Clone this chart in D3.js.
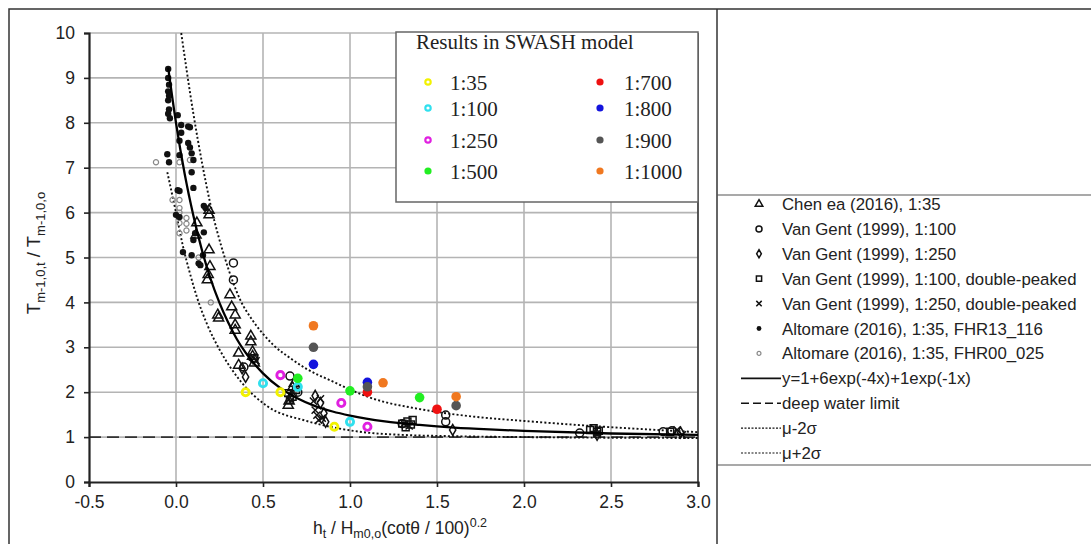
<!DOCTYPE html>
<html><head><meta charset="utf-8">
<script src="https://cdn.jsdelivr.net/npm/d3@7"></script>
<style>
body{margin:0;background:#fff;}
text{font-family:"Liberation Sans",Arial,sans-serif;fill:#222;}
.serif{font-family:"Liberation Serif","Times New Roman",serif;}
</style></head><body>
<svg id="c" width="1091" height="544"></svg>
<script>
// ---------- DATA ----------
const xTicks = [-0.5, 0, 0.5, 1, 1.5, 2, 2.5, 3];
const yTicks = [0,1,2,3,4,5,6,7,8,9,10];

const swashLabels = ["1:35","1:100","1:250","1:500","1:700","1:800","1:900","1:1000"];
const swash35   = [[0.40,2.00],[0.60,2.00],[0.91,1.23]];
const swash100  = [[0.50,2.20],[0.70,2.12],[1.00,1.34]];
const swash250  = [[0.60,2.38],[0.95,1.76],[1.10,1.23]];
const swash500  = [[0.70,2.31],[1.00,2.03],[1.40,1.88]];
const swash700  = [[1.10,2.00],[1.50,1.62]];
const swash800  = [[0.79,2.62],[1.10,2.22]];
const swash900  = [[0.79,3.00],[1.10,2.12],[1.61,1.70]];
const swash1000 = [[0.79,3.48],[1.19,2.21],[1.61,1.90]];

const chen35 = [[0.19,6.05],[0.19,5.95],[0.12,5.77],[0.115,5.5],[0.19,5.17],[0.195,4.8],[0.185,4.62],[0.18,4.5],
  [0.31,4.17],[0.32,3.9],[0.34,3.72],[0.34,3.5],[0.34,3.38],[0.24,3.72],[0.245,3.65],[0.43,3.25],[0.43,3.12],
  [0.44,2.9],[0.36,2.87],[0.36,2.6],[0.44,2.8],[0.45,2.65],[0.645,1.71],[0.65,1.8],[0.67,2.1],[0.68,2.2]];
const vanGent100 = [[0.33,4.88],[0.33,4.5],[0.39,2.56],[0.655,2.36],[0.70,2.0],[1.55,1.49],[1.55,1.34],
  [2.32,1.09],[2.80,1.12],[2.85,1.14],[1.30,1.30]];
const vanGent250 = [[0.38,2.53],[0.40,2.34],[0.80,1.92],[0.83,1.76],[0.85,1.53],[0.86,1.34],[1.59,1.16],
  [0.66,1.9],[2.42,1.05],[2.90,1.10]];
const vanGent100dp = [[0.645,1.98],[0.655,1.83],[0.67,1.9],[0.69,2.05],[1.30,1.30],[1.33,1.35],[1.35,1.28],
  [1.32,1.22],[1.36,1.38],[2.38,1.16],[2.42,1.12],[2.40,1.20],[2.43,1.14],[2.84,1.12],[0.45,2.75]];
const vanGent250dp = [[0.80,1.60],[0.81,1.49],[0.84,1.42],[0.82,1.38],[0.83,1.85],[0.79,1.80],[1.31,1.30],
  [1.34,1.25],[2.88,1.16],[2.91,1.05],[2.42,1.08],[0.44,2.78],[0.46,2.70]];
const altomare13 = [[-0.045,9.2],[-0.045,9.0],[-0.04,8.85],[-0.045,8.7],[-0.04,8.6],[-0.045,8.5],[-0.04,8.3],
  [-0.045,8.2],[-0.035,8.1],[0.01,8.17],[0.03,7.95],[0.03,7.78],[0.02,7.6],[0.07,7.92],[0.08,7.9],[0.07,7.55],
  [0.08,7.45],[0.09,7.32],[0.10,7.17],[0.09,6.9],[0.10,6.55],[-0.05,7.3],[-0.04,7.12],[0.02,7.28],[0.01,6.5],
  [0.02,6.48],[0.16,6.15],[0.17,6.1],[0.0,5.95],[0.02,5.9],[0.11,5.54],[0.10,5.39],[0.16,5.56],[0.09,5.05],
  [0.13,4.87],[0.14,4.83],[0.155,5.05],[0.04,5.12]];
const altomare00 = [[-0.115,7.12],[0.02,7.12],[0.08,7.17],[-0.02,6.28],[0.02,6.28],[0.02,6.1],[0.02,6.0],
  [0.06,5.88],[0.06,5.75],[0.06,5.6],[0.02,5.77],[0.02,5.54],[0.13,5.0],[0.20,4.0]];

const refLabels = ["Chen ea (2016), 1:35","Van Gent (1999), 1:100","Van Gent (1999), 1:250",
  "Van Gent (1999), 1:100, double-peaked","Van Gent (1999), 1:250, double-peaked",
  "Altomare (2016), 1:35, FHR13_116","Altomare (2016), 1:35, FHR00_025"];
const lineLabels = ["y=1+6exp(-4x)+1exp(-1x)","deep water limit","μ-2σ","μ+2σ"];

// curves
const fitCurve = [[-0.045,9.23],[0,8.0],[0.05,6.86],[0.1,5.93],[0.15,5.15],[0.2,4.51],[0.25,3.99],[0.3,3.55],
  [0.35,3.18],[0.4,2.88],[0.5,2.42],[0.6,2.09],[0.7,1.86],[0.8,1.69],[0.9,1.57],[1.0,1.48],[1.2,1.35],
  [1.4,1.27],[1.6,1.21],[1.8,1.17],[2.0,1.14],[2.5,1.08],[3.0,1.05]];
const upperCurve = [[0.03,10],[0.1,8.2],[0.15,7.1],[0.2,6.15],[0.28,5.0],[0.37,4.05],[0.44,3.6],[0.5,3.3],
  [0.56,3.05],[0.66,2.75],[0.75,2.52],[0.9,2.24],[1.0,2.06],[1.1,1.9],[1.2,1.78],[1.35,1.66],[1.5,1.56],
  [1.7,1.46],[2.0,1.36],[2.5,1.22],[3.0,1.11]];
const lowerCurve = [[-0.05,6.9],[0,6.0],[0.04,5.25],[0.08,4.65],[0.12,4.12],[0.18,3.5],[0.25,2.95],[0.37,2.25],
  [0.52,1.7],[0.75,1.36],[0.94,1.19],[1.1,1.1],[1.3,1.05],[1.6,1.02],[2.0,1.0],[3.0,0.98]];
const deepWater = [[-0.5,1],[3.0,1]];

// ---------- DRAW ----------
const svg = d3.select("#c");
const x = d3.scaleLinear().domain([-0.5,3]).range([89,698]);
const y = d3.scaleLinear().domain([0,10]).range([482,33]);

// outer frame
svg.append("path").attr("d","M9,544 L9,9 L1091,9").attr("fill","none").attr("stroke","#333").attr("stroke-width",1.5);
svg.append("line").attr("x1",717).attr("x2",717).attr("y1",9).attr("y2",544).attr("stroke","#333").attr("stroke-width",1.5);
svg.append("line").attr("x1",717).attr("x2",1091).attr("y1",195).attr("y2",195).attr("stroke","#555").attr("stroke-width",1.2);
svg.append("line").attr("x1",717).attr("x2",1091).attr("y1",465).attr("y2",465).attr("stroke","#555").attr("stroke-width",1.2);

// grid
const grid = svg.append("g").attr("stroke","#b4b4b4").attr("stroke-width",1.6);
xTicks.slice(1,-1).forEach(t=>grid.append("line").attr("x1",x(t)).attr("x2",x(t)).attr("y1",y(10)).attr("y2",y(0)));
yTicks.slice(1).forEach(t=>grid.append("line").attr("x1",x(-0.5)).attr("x2",x(3)).attr("y1",y(t)).attr("y2",y(t)));
svg.append("line").attr("x1",x(3)).attr("x2",x(3)).attr("y1",y(10)).attr("y2",y(0)).attr("stroke","#444").attr("stroke-width",1.8);

// curves
const line = d3.line().x(d=>x(d[0])).y(d=>y(d[1])).curve(d3.curveMonotoneX);
svg.append("path").attr("d",d3.line().x(d=>x(d[0])).y(d=>y(d[1]))(deepWater)).attr("fill","none")
  .attr("stroke","#333").attr("stroke-width",1.6).attr("stroke-dasharray","12,6");
svg.append("path").attr("d",line(upperCurve)).attr("fill","none").attr("stroke","#111").attr("stroke-width",1.9).attr("stroke-dasharray","2,2.2");
svg.append("path").attr("d",line(lowerCurve)).attr("fill","none").attr("stroke","#111").attr("stroke-width",1.9).attr("stroke-dasharray","2,2.2");

// marker helpers
function xPath(s){return `M${-s},${-s}L${s},${s}M${-s},${s}L${s},${-s}`;}
function drawMarkers(g, data, kind, sc){
  data.forEach(d=>{
    addMarker(g, kind, sc||1).attr("transform", `translate(${x(d[0])},${y(d[1])})`);
  });
}
function addMarker(g, kind, sc){
  sc = sc||1;
  if(kind==="tri") return g.append("path").attr("d",d3.symbol(d3.symbolTriangle,44*sc*sc)()).attr("fill","none").attr("stroke","#111").attr("stroke-width",1.5);
  if(kind==="circ") return g.append("circle").attr("r",4*sc).attr("fill","none").attr("stroke","#111").attr("stroke-width",1.5);
  if(kind==="diam") return g.append("path").attr("d",d3.symbol(d3.symbolDiamond,34*sc*sc)()).attr("fill","none").attr("stroke","#111").attr("stroke-width",1.5);
  if(kind==="sq") return g.append("path").attr("d",d3.symbol(d3.symbolSquare,48*sc*sc)()).attr("fill","none").attr("stroke","#111").attr("stroke-width",1.5);
  if(kind==="x") return g.append("path").attr("d",xPath(3.6*sc)).attr("fill","none").attr("stroke","#111").attr("stroke-width",1.5);
  if(kind==="dot") return g.append("circle").attr("r",3.2*sc).attr("fill","#111");
  if(kind==="gdot") return g.append("circle").attr("r",2.6*sc).attr("fill","none").attr("stroke","#888").attr("stroke-width",1.2);
}
const pts = svg.append("g");
drawMarkers(pts, altomare00, "gdot");
drawMarkers(pts, altomare13, "dot");
drawMarkers(pts, chen35, "tri");
drawMarkers(pts, vanGent100, "circ");
drawMarkers(pts, vanGent250, "diam");
drawMarkers(pts, vanGent100dp, "sq");
drawMarkers(pts, vanGent250dp, "x");

// fitted curve on top of black points
svg.append("path").attr("d",line(fitCurve)).attr("fill","none").attr("stroke","#000").attr("stroke-width",2.3);

// SWASH points
const swashSeries = [swash35,swash100,swash250,swash500,swash700,swash800,swash900,swash1000];
const swashColors = ["#f2f200","#30e0ee","#e020e0","#22ee22","#ee1111","#1414dd","#555555","#f07820"];
const swashOpen = [true,true,true,false,false,false,false,false];
function swashMarker(g, i, cx, cy, r){
  if(swashOpen[i]) return g.append("circle").attr("cx",cx).attr("cy",cy).attr("r",r*0.75).attr("fill","none").attr("stroke",swashColors[i]).attr("stroke-width",r*0.6);
  return g.append("circle").attr("cx",cx).attr("cy",cy).attr("r",r).attr("fill",swashColors[i]);
}
const sg = svg.append("g");
swashSeries.forEach((s,i)=>s.forEach(d=>swashMarker(sg,i,x(d[0]),y(d[1]),4.8)));

// axes
const yAxis = svg.append("g").attr("transform",`translate(${x(-0.5)},0)`)
  .call(d3.axisLeft(y).tickValues(yTicks).tickSize(5).tickPadding(9).tickFormat(d=>String(d)));
const xAxis = svg.append("g").attr("transform",`translate(0,${y(0)})`)
  .call(d3.axisBottom(x).tickValues(xTicks).tickSize(5).tickPadding(9).tickFormat(d=>d.toFixed(1)));
[yAxis,xAxis].forEach(a=>{
  a.select(".domain").attr("stroke","#222").attr("stroke-width",2.2);
  a.selectAll(".tick line").attr("stroke","#222").attr("stroke-width",1.6);
  a.selectAll(".tick text").attr("font-size",17.5).attr("fill","#222").attr("font-family","Liberation Sans, Arial, sans-serif");
});

// axis titles
const xt = svg.append("text").attr("x",400).attr("y",534).attr("text-anchor","middle").attr("font-size",17.5);
xt.append("tspan").text("h");
xt.append("tspan").attr("font-size",12.5).attr("dy",4).text("t");
xt.append("tspan").attr("dy",-4).text(" / H");
xt.append("tspan").attr("font-size",12.5).attr("dy",4).text("m0,o");
xt.append("tspan").attr("dy",-4).text("(cotθ / 100)");
xt.append("tspan").attr("font-size",12.5).attr("dy",-7).text("0.2");

const yt = svg.append("text").attr("transform","translate(40,253) rotate(-90)").attr("text-anchor","middle").attr("font-size",18.5);
yt.append("tspan").text("T");
yt.append("tspan").attr("font-size",13).attr("dy",4.5).text("m-1,0,t");
yt.append("tspan").attr("dy",-4.5).text(" / T");
yt.append("tspan").attr("font-size",13).attr("dy",4.5).text("m-1,0,o");

// SWASH legend box
const lg = svg.append("g");
lg.append("rect").attr("x",396).attr("y",32).attr("width",302).attr("height",170).attr("fill","#fff").attr("stroke","#666").attr("stroke-width",1.5);
lg.append("text").attr("class","serif").attr("x",416).attr("y",49).attr("font-size",21).text("Results in SWASH model");
const legRowsY = [83,109,141,172];
swashLabels.forEach((lab,i)=>{
  const col = i<4?0:1, row = i%4;
  const mx = col===0?428:600, tx = col===0?450:624;
  const cy = legRowsY[row];
  swashMarker(lg,i,mx,cy-1,3.6);
  lg.append("text").attr("class","serif").attr("x",tx).attr("y",cy+7).attr("font-size",21).text(lab);
});

// right legend
const rg = svg.append("g");
const kinds = ["tri","circ","diam","sq","x","dot","gdot"];
const rowY = i => 204 + i*24.9;
refLabels.forEach((lab,i)=>{
  addMarker(rg,kinds[i],0.75).attr("transform",`translate(759,${rowY(i)})`);
  rg.append("text").attr("x",782).attr("y",rowY(i)+6).attr("font-size",16.8).text(lab);
});
const lineStyles = [{w:1.8,da:null},{w:1.4,da:"8,4"},{w:1.2,da:"2,1.5"},{w:1.2,da:"2,1.5"}];
lineLabels.forEach((lab,j)=>{
  const i = j+7, yy = rowY(i);
  const l = rg.append("line").attr("x1",741).attr("x2",781).attr("y1",yy).attr("y2",yy).attr("stroke","#111").attr("stroke-width",lineStyles[j].w);
  if(lineStyles[j].da) l.attr("stroke-dasharray",lineStyles[j].da);
  rg.append("text").attr("x",782).attr("y",yy+6).attr("font-size",16.8).text(lab);
});
</script></body></html>
